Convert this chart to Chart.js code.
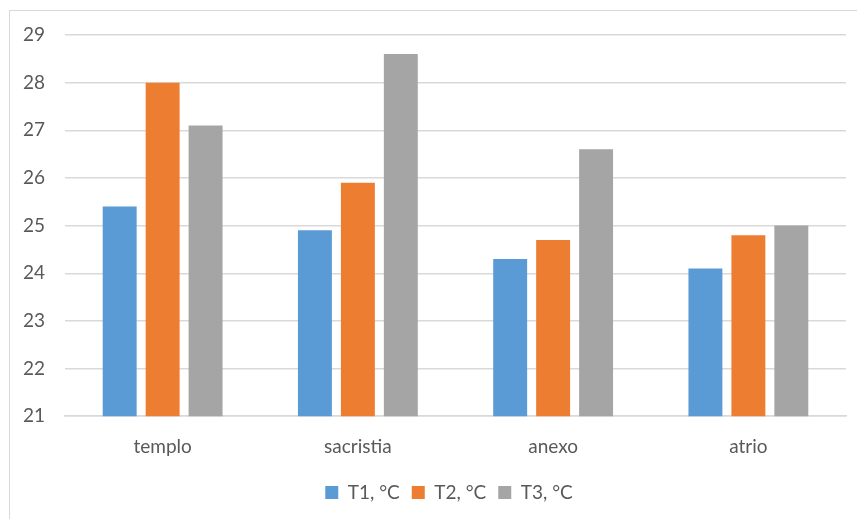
<!DOCTYPE html>
<html>
<head>
<meta charset="utf-8">
<script src="https://cdn.jsdelivr.net/npm/chart.js@4"></script>
<style>
  body { margin: 0; background: #fff; overflow: hidden; }
  #frame { position: absolute; left: 9px; top: 10px; width: 900px; height: 600px; border: 1px solid #d9d9d9; box-sizing: border-box; }
  #wrap { position: absolute; left: 0; top: 0; width: 857px; height: 519px; }
</style>
</head>
<body>
<div id="frame"></div>
<div id="wrap"><canvas id="chart" width="857" height="519"></canvas></div>
<script>
// chart data
const categories = ['templo', 'sacristia', 'anexo', 'atrio'];
const seriesNames = ['T1, °C', 'T2, °C', 'T3, °C'];
const t1 = [25.4, 24.9, 24.3, 24.1];
const t2 = [28.0, 25.9, 24.7, 24.8];
const t3 = [27.1, 28.6, 26.6, 25.0];
const yTicks = [21, 22, 23, 24, 25, 26, 27, 28, 29];

const colors = ['#5B9BD5', '#ED7D31', '#A5A5A5'];
const font = { family: 'Lato, "Open Sans", sans-serif', size: 19 };

// the legend sits a bit right of the canvas centre in the original
const shiftLegend = {
    id: 'shiftLegend',
    afterLayout(chart) {
        chart.legend.left += 21;
        chart.legend.right += 21;
        chart.legend.top += 2;
        chart.legend.bottom += 2;
    }
};

const ctx = document.getElementById('chart').getContext('2d');
new Chart(ctx, {
    type: 'bar',
    data: {
        labels: categories,
        datasets: [t1, t2, t3].map((vals, i) => ({
            label: seriesNames[i],
            data: vals,
            backgroundColor: colors[i],
            categoryPercentage: 0.66,
            barPercentage: 0.79,
        }))
    },
    options: {
        responsive: false,
        animation: false,
        layout: { padding: { left: 10, right: 11, top: 35, bottom: 9 } },
        scales: {
            x: {
                grid: { display: false },
                border: { color: '#d9d9d9', width: 1.5 },
                ticks: { color: '#595959', font: font, padding: 11 }
            },
            y: {
                min: 21,
                max: 29,
                afterFit: (s) => { s.width = 55; },
                afterBuildTicks: (s) => { s.ticks = yTicks.map(v => ({ value: v })); },
                grid: { color: '#d9d9d9', lineWidth: 1.5, drawTicks: false },
                border: { display: false },
                ticks: { color: '#595959', font: font, padding: 20 }
            }
        },
        plugins: {
            legend: {
                position: 'bottom',
                labels: {
                    color: '#595959',
                    font: font,
                    boxWidth: 13,
                    boxHeight: 13,
                    padding: 12
                }
            },
            tooltip: { enabled: false }
        }
    },
    plugins: [shiftLegend]
});
</script>
</body>
</html>
